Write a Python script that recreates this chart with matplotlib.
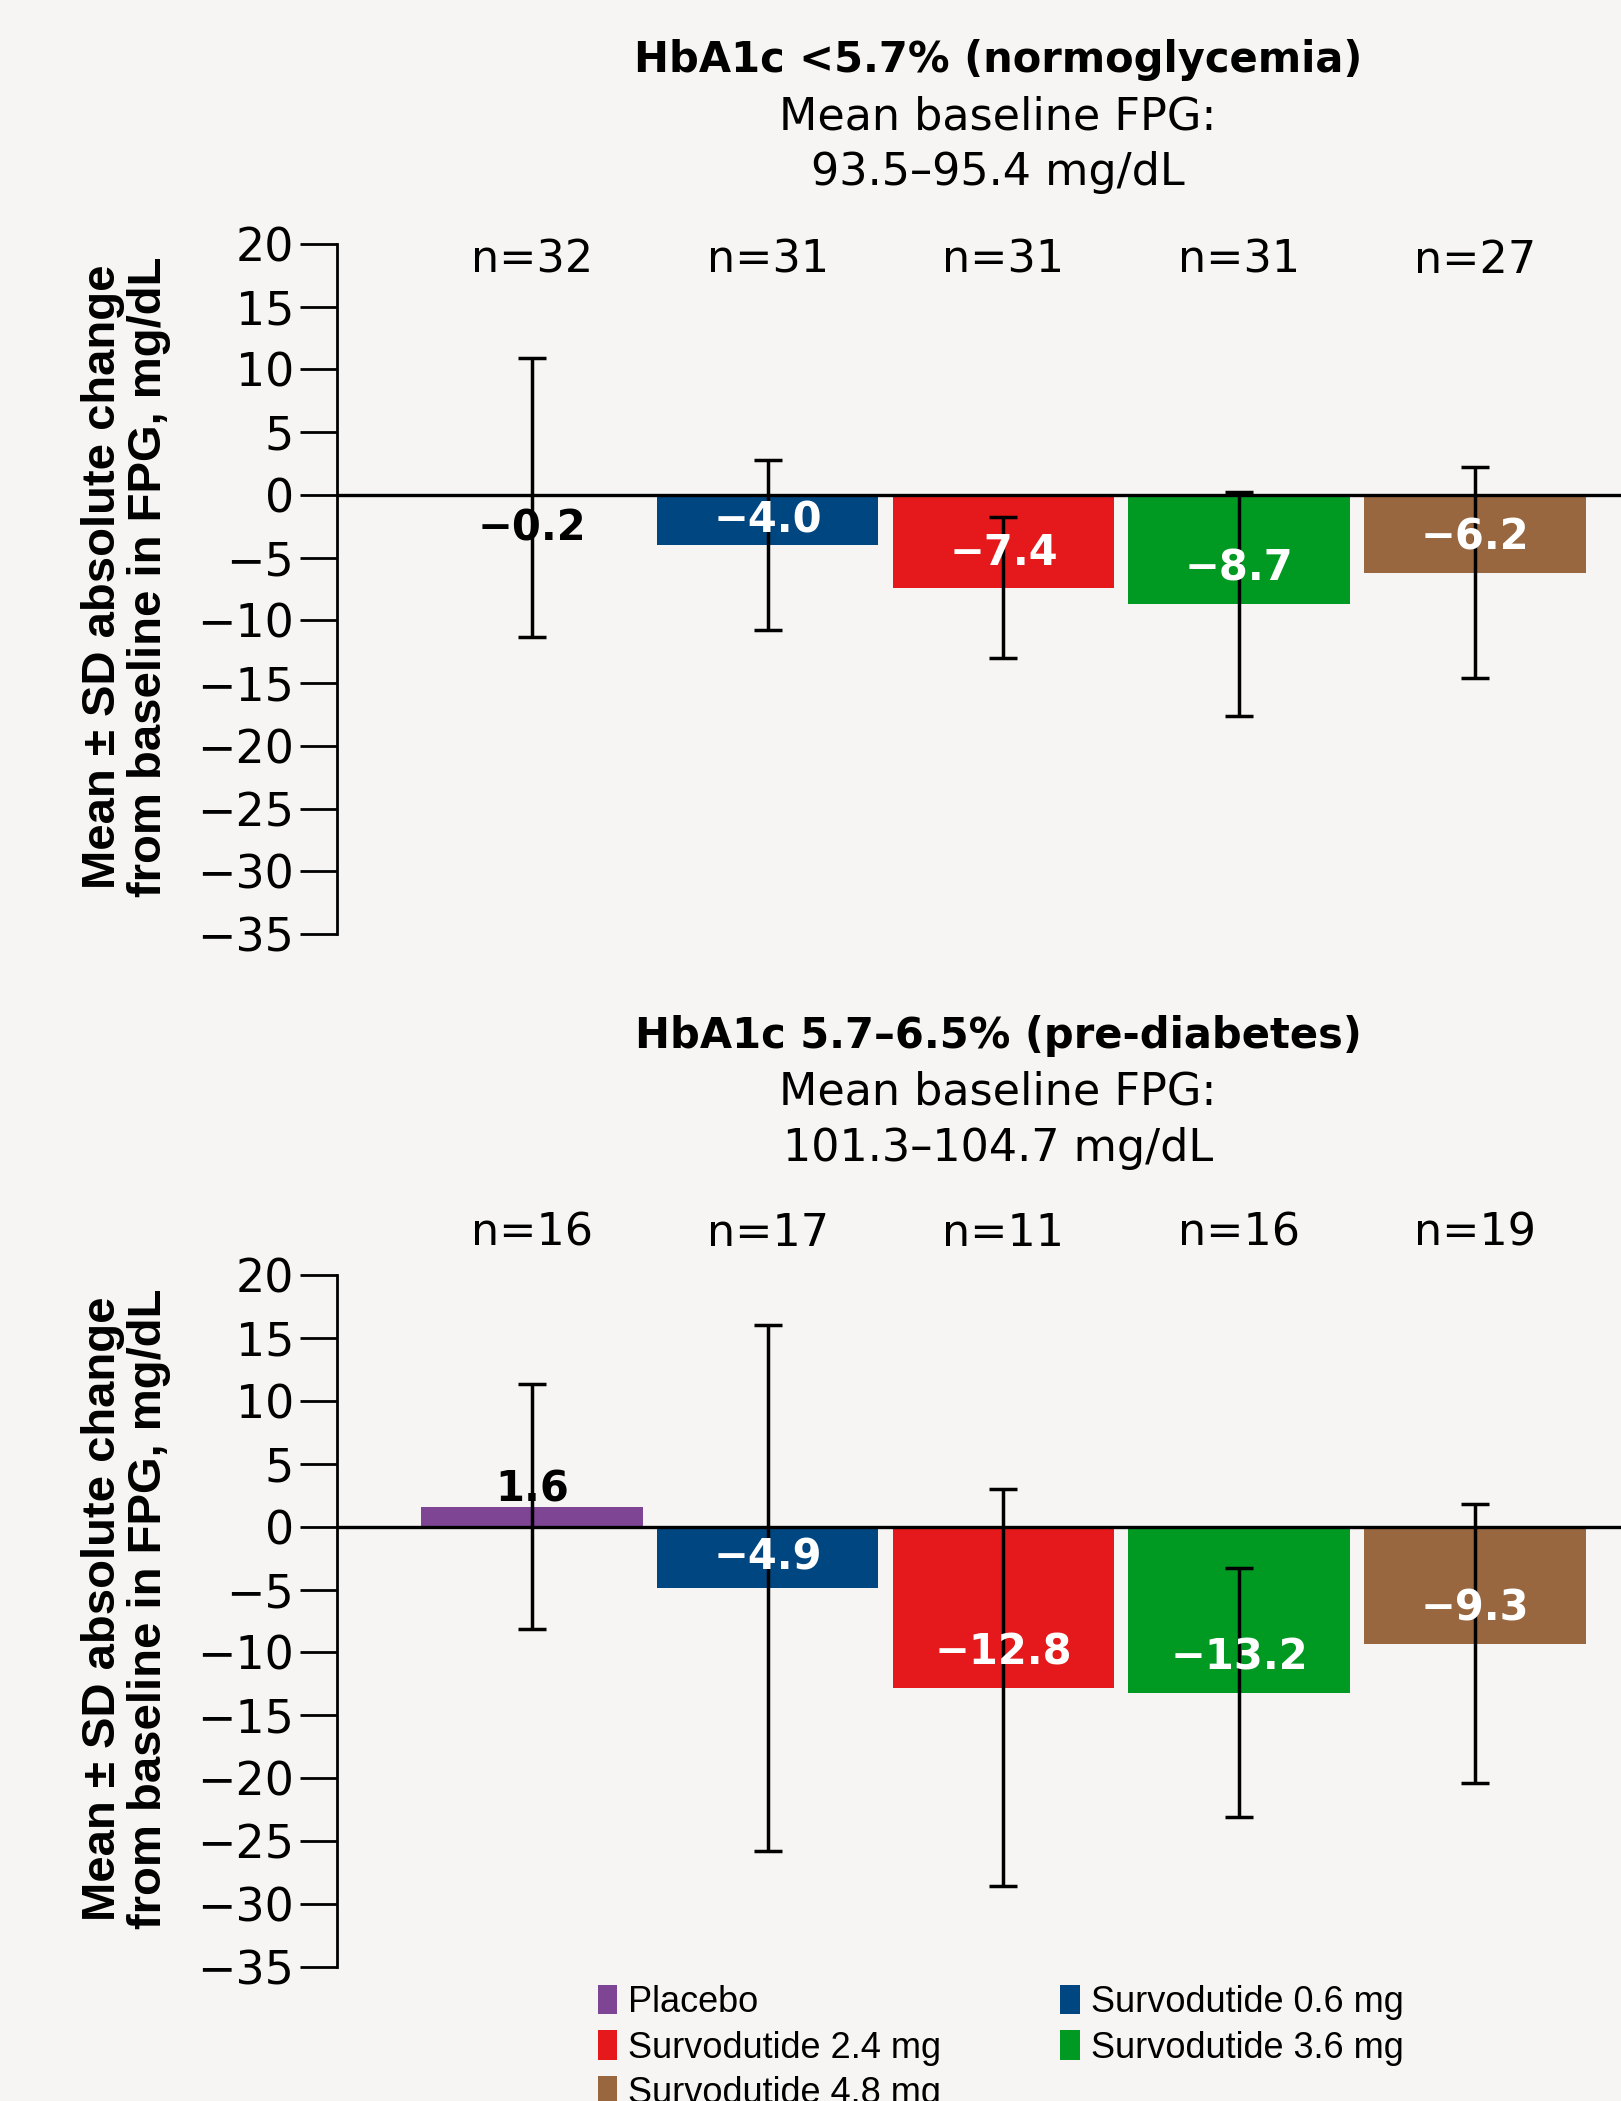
import matplotlib.pyplot as plt
from matplotlib.patches import Patch

# Данные
groups = ['Placebo', 'Survodutide 0.6 mg', 'Survodutide 2.4 mg',
          'Survodutide 3.6 mg', 'Survodutide 4.8 mg']
colors = ['#7f4595', '#004680', '#e5191b', '#009a22', '#98673f']

normo_mean = [-0.2, -4.0, -7.4, -8.7, -6.2]
normo_sd = [11.1, 6.8, 5.6, 8.9, 8.4]
normo_n = [32, 31, 31, 31, 27]

pre_mean = [1.6, -4.9, -12.8, -13.2, -9.3]
pre_sd = [9.7, 20.9, 15.8, 9.9, 11.1]
pre_n = [16, 17, 11, 16, 19]

titles = [
    ('HbA1c <5.7% (normoglycemia)', 'Mean baseline FPG:', '93.5–95.4 mg/dL'),
    ('HbA1c 5.7–6.5% (pre-diabetes)', 'Mean baseline FPG:', '101.3–104.7 mg/dL'),
]
yticks = list(range(-35, 21, 5))
ylabel = 'Mean ± SD absolute change\nfrom baseline in FPG, mg/dL'

BG = '#f6f5f3'
W, H = 1621, 2101

fig = plt.figure(figsize=(W / 100, H / 100), dpi=100, facecolor=BG)

# позиции осей в пикселях (верх = 20, низ = -35)
panels = [
    dict(mean=normo_mean, sd=normo_sd, n=normo_n, top=244, bottom=934, n_y=18.7,
         title=titles[0], title_y=[60, 117, 173]),
    dict(mean=pre_mean, sd=pre_sd, n=pre_n, top=1275, bottom=1967, n_y=23.3,
         title=titles[1], title_y=[1036, 1092, 1148]),
]

left = 337
x = list(range(len(groups)))

for p in panels:
    ax = fig.add_axes([left / W, 1 - p['bottom'] / H, 1 - left / W,
                       (p['bottom'] - p['top']) / H])
    ax.set_facecolor(BG)
    ax.bar(x, p['mean'], width=0.94, color=colors, zorder=2)
    ax.errorbar(x, p['mean'], yerr=p['sd'], fmt='none', ecolor='black',
                elinewidth=2.5, capsize=10, capthick=2.5, zorder=4)
    ax.axhline(0, color='black', linewidth=2.4, zorder=3)

    ax.set_xlim(-0.827, 4.62)
    ax.set_ylim(-35, 20)
    ax.set_yticks(yticks)
    ax.set_yticklabels([str(t).replace('-', '−') for t in yticks],
                       fontsize=33, family='DejaVu Sans')
    ax.tick_params(axis='y', length=27, width=2, pad=4)
    ax.set_xticks([])
    for s in ['top', 'right', 'bottom']:
        ax.spines[s].set_visible(False)
    ax.spines['left'].set_linewidth(2)

    # подписи значений
    for i, v in enumerate(p['mean']):
        txt = f'{v:.1f}'.replace('-', '−')
        if i == 0:
            if v >= 0:
                ax.text(i, v - 0.3, txt, ha='center', va='bottom', fontsize=30,
                        fontweight='bold', color='black', zorder=5)
            else:
                ax.text(i, v - 0.8, txt, ha='center', va='top', fontsize=30,
                        fontweight='bold', color='black', zorder=5)
        else:
            y = min(v + 2.8, v / 2)
            ax.text(i, y, txt, ha='center', va='center', fontsize=30,
                    fontweight='bold', color='white', zorder=5)

    for i, n in enumerate(p['n']):
        ax.text(i, p['n_y'], f'n={n}', ha='center', va='center', fontsize=32,
                clip_on=False)

    t1, t2, t3 = p['title']
    fig.text(998 / W, 1 - p['title_y'][0] / H, t1, ha='center', va='center',
             fontsize=30, fontweight='bold')
    fig.text(998 / W, 1 - p['title_y'][1] / H, t2, ha='center', va='center',
             fontsize=32)
    fig.text(998 / W, 1 - p['title_y'][2] / H, t3, ha='center', va='center',
             fontsize=32)

    fig.text(126 / W, 1 - ((p['top'] + p['bottom']) / 2 - 12) / H, ylabel,
             rotation=90, ha='center', va='center', multialignment='center',
             fontsize=34, fontweight='bold', family='Liberation Sans',
             linespacing=1.05)

# легенда
order = [0, 2, 4, 1, 3]
handles = [Patch(facecolor=colors[i], label=groups[i]) for i in order]
fig.legend(handles=handles, loc='upper left', bbox_to_anchor=(565 / W, 1 - 1952 / H),
           ncol=2, frameon=False, handlelength=0.55, handleheight=0.9,
           handletextpad=0.3, columnspacing=3.3, labelspacing=0.28,
           prop={'family': 'Liberation Sans', 'size': 26})

plt.savefig('out.png', dpi=100, facecolor=BG)
